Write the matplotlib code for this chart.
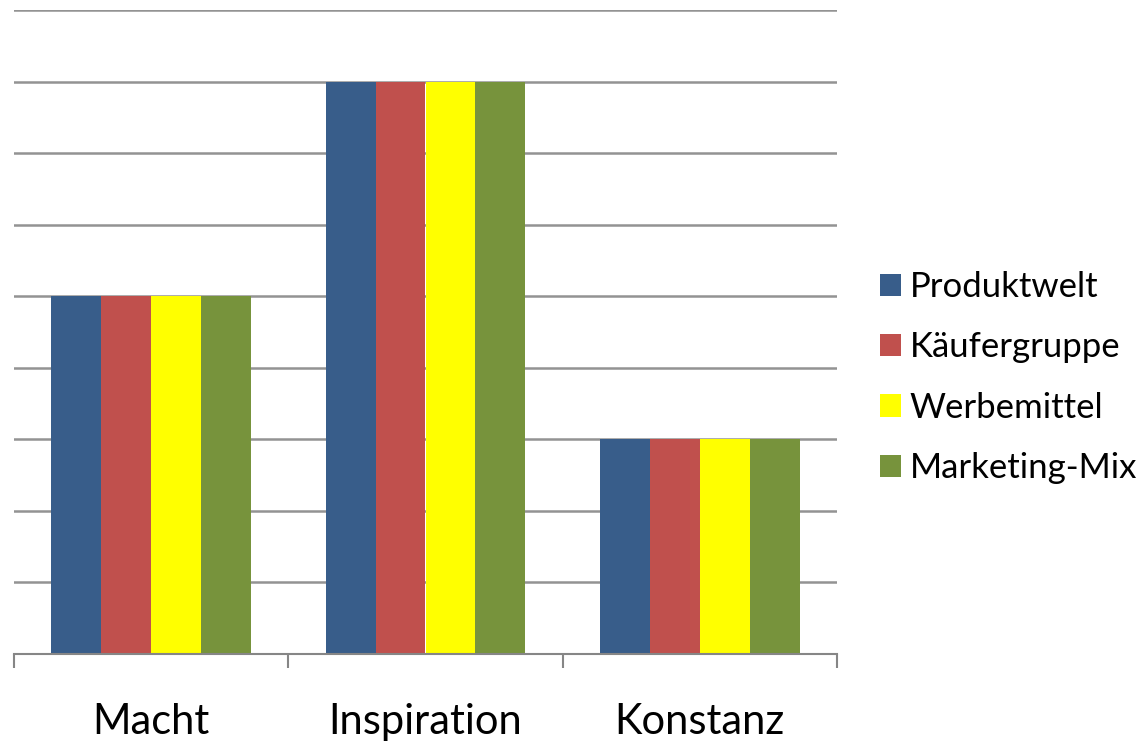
import matplotlib.pyplot as plt
import numpy as np

categories = ['Macht', 'Inspiration', 'Konstanz']
series = ['Produktwelt', 'Käufergruppe', 'Werbemittel', 'Marketing-Mix']
values = {
    'Produktwelt': [5, 8, 3],
    'Käufergruppe': [5, 8, 3],
    'Werbemittel': [5, 8, 3],
    'Marketing-Mix': [5, 8, 3],
}
colors = ['#385D8A', '#C0504D', '#FFFF00', '#77933C']

plt.rcParams['font.family'] = ['Lato', 'DejaVu Sans']

fig = plt.figure(figsize=(11.47, 7.41), dpi=100)
ax = fig.add_axes([14 / 1147, 1 - 654 / 741, (837 - 14) / 1147, (654 - 10) / 741])

x = np.arange(len(categories))
width = 0.182
for i, name in enumerate(series):
    ax.bar(x + (i - 1.5) * width, values[name], width, color=colors[i],
           label=name, zorder=3)

ax.set_xlim(-0.5, 2.5)
ax.set_ylim(0, 9)
ax.set_yticks(np.arange(1, 10))
ax.yaxis.grid(True, color='#939393', linewidth=1.8)
ax.tick_params(axis='y', left=False, labelleft=False)

ax.set_xticks(x)
ax.set_xticklabels(categories, fontsize=30)
ax.tick_params(axis='x', which='major', length=0, pad=35)
ax.set_xticks(np.arange(-0.5, 3, 1), minor=True)
ax.tick_params(axis='x', which='minor', length=10, width=1.5, color='#868686')

for s in ['top', 'right', 'left']:
    ax.spines[s].set_visible(False)
ax.spines['bottom'].set_color('#868686')
ax.spines['bottom'].set_linewidth(1.5)
ax.spines['bottom'].set_zorder(4)

fig.legend(loc='center left', bbox_to_anchor=(880 / 1147, 1 - 377.5 / 741),
           frameon=False, fontsize=25, handlelength=0.6, handleheight=0.6,
           handletextpad=0.26, labelspacing=0.82, borderpad=0, borderaxespad=0)

fig.savefig('out.png', dpi=100)
